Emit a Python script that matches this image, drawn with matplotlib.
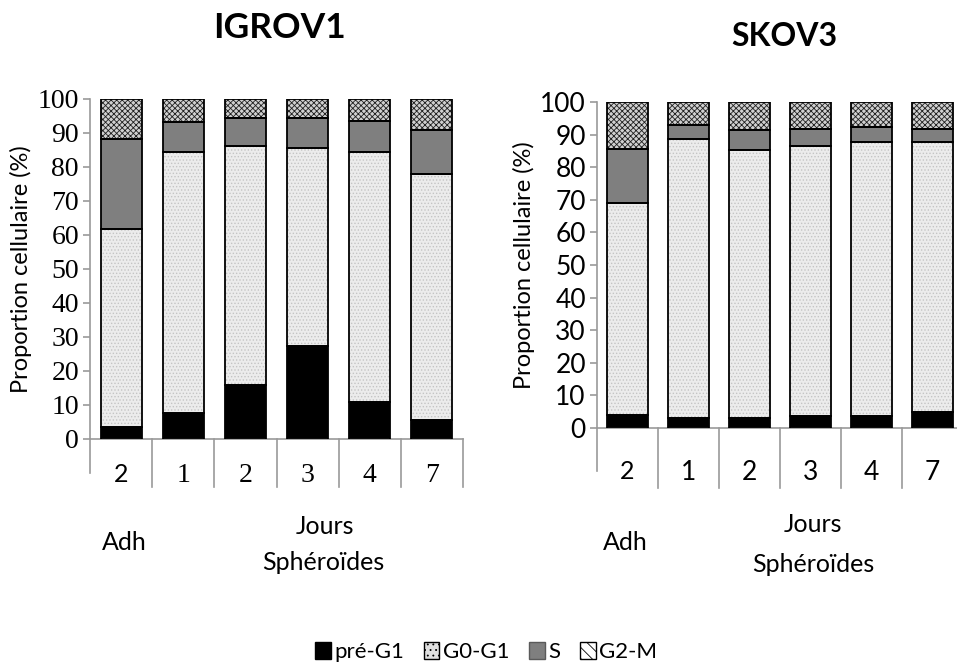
import matplotlib
matplotlib.use('Agg')
import matplotlib.pyplot as plt
from matplotlib.patches import Patch
import numpy as np

plt.rcParams['hatch.linewidth'] = 0.6

# données (%)
jours = ['2', '1', '2', '3', '4', '7']
phases = ['pré-G1', 'G0-G1', 'S', 'G2-M']

igrov_pre = [3.5, 7.6, 15.9, 27.3, 10.8, 5.7]
igrov_g0g1 = [58.4, 76.7, 70.2, 58.4, 73.6, 72.2]
igrov_s = [26.2, 8.8, 8.3, 8.7, 9.1, 12.9]
igrov_g2m = [11.9, 6.9, 5.6, 5.6, 6.5, 9.2]

skov_pre = [4.1, 3.1, 3.1, 3.6, 3.6, 5.0]
skov_g0g1 = [64.8, 85.4, 82.1, 82.8, 84.0, 82.6]
skov_s = [16.6, 4.3, 6.1, 5.3, 4.6, 4.1]
skov_g2m = [14.5, 7.2, 8.7, 8.3, 7.8, 8.3]

SANS = 'Lato'
SERIF = 'Liberation Serif'
W, H = 957, 671

styles = [
    dict(face='black', hatch_col='black', hatch=None),
    dict(face='#ececec', hatch_col='#c4c4c4', hatch='.....'),
    dict(face='#7f7f7f', hatch_col='#7f7f7f', hatch=None),
    dict(face='#d0d0d0', hatch_col='#202020', hatch='xxxxxx'),
]


def px(x, y):
    # pixels -> coordonnées figure
    return x / W, 1 - y / H


def draw_panel(fig, rect, title, title_xy, title_size, series, tick_font,
               tick_size, first_tick_font, pad, sep_low, grp):
    ax = fig.add_axes(rect)
    x = np.arange(len(jours))
    w = 0.66
    bottom = np.zeros(len(jours))
    for vals, st in zip(series, styles):
        vals = np.array(vals)
        ax.bar(x, vals, w, bottom=bottom, color=st['face'], edgecolor=st['hatch_col'],
               hatch=st['hatch'], linewidth=0, zorder=2)
        ax.bar(x, vals, w, bottom=bottom, fill=False, edgecolor='black',
               linewidth=1.3, zorder=3)
        bottom += vals

    ax.set_xlim(-0.5, len(jours) - 0.5)
    ax.set_ylim(0, 100)
    ax.set_yticks(np.arange(0, 101, 10))
    for s in ['top', 'right']:
        ax.spines[s].set_visible(False)
    for s in ['left', 'bottom']:
        ax.spines[s].set_color('#9a9a9a')
        ax.spines[s].set_linewidth(1.2)
    ax.tick_params(axis='y', colors='#9a9a9a', length=5, width=1.2, labelcolor='black',
                   labelsize=tick_size, pad=3)
    for lab in ax.get_yticklabels():
        lab.set_family(tick_font)
    ax.set_xticks(x)
    ax.set_xticklabels(jours, fontsize=tick_size, family=tick_font)
    ax.tick_params(axis='x', length=0, pad=pad)
    first = ax.get_xticklabels()[0]
    first.set_family(first_tick_font)
    first.set_fontsize(18)

    # séparateurs de catégories sous l'axe
    for i, b in enumerate(np.arange(-0.5, len(jours), 1.0)):
        low = sep_low * 0.72 if i == 0 else sep_low
        ax.plot([b, b], [0, -low], color='#9a9a9a', lw=1.2, clip_on=False, zorder=1)

    ax.set_ylabel('Proportion cellulaire (%)', fontsize=17, family=SANS, labelpad=4)
    fig.text(*px(*title_xy), title, ha='center', va='center',
             fontsize=title_size, fontweight='bold', family=SANS)
    for txt, (gx, gy) in zip(['Adh', 'Jours', 'Sphéroïdes'], grp):
        fig.text(*px(gx, gy), txt, ha='center', va='center', fontsize=18, family=SANS)
    return ax


fig = plt.figure(figsize=(W / 100, H / 100), dpi=100)

draw_panel(fig, [90 / W, 1 - 439 / H, 373 / W, 340 / H], 'IGROV1', (280, 28), 25.5,
           [igrov_pre, igrov_g0g1, igrov_s, igrov_g2m], SERIF, 20, SANS, 17, 14,
           [(124, 543), (325, 527), (323, 563)])
draw_panel(fig, [597 / W, 1 - 428 / H, 366 / W, 326 / H], 'SKOV3', (784, 36), 23,
           [skov_pre, skov_g0g1, skov_s, skov_g2m], SANS, 19, SANS, 23, 18.5,
           [(625, 543), (813, 525), (813, 565)])

handles = [
    Patch(facecolor='black', edgecolor='black', label=phases[0]),
    Patch(facecolor='#e0e0e0', edgecolor='black', hatch='...', label=phases[1]),
    Patch(facecolor='#7f7f7f', edgecolor='#5a5a5a', label=phases[2]),
    Patch(facecolor='white', edgecolor='black', hatch='\\\\\\', label=phases[3]),
]
fig.legend(handles=handles, loc='center', bbox_to_anchor=px(486, 652), ncol=4,
           frameon=False, prop={'family': SANS, 'size': 16}, handlelength=0.7,
           handleheight=0.8, handletextpad=0.15, columnspacing=0.9)

fig.savefig('out.png', dpi=100)
